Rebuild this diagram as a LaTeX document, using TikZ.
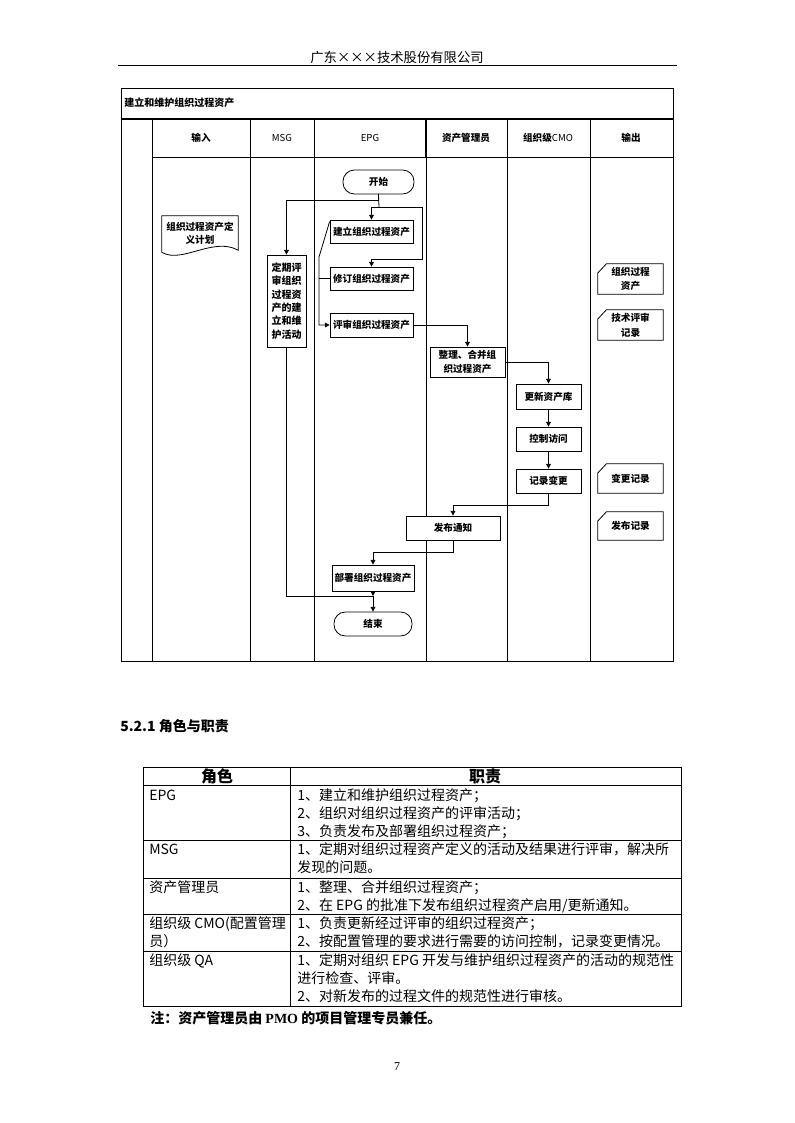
\documentclass[tikz,border=0pt]{standalone}
\usepackage{fontspec}
\setmainfont{Noto Sans CJK SC}
\newfontfamily\tnr{Liberation Serif}
\usetikzlibrary{arrows.meta,calc}
\begin{document}
\begin{tikzpicture}[x=0.75pt,y=-0.75pt,
 every node/.style={inner sep=0pt},
 sz/.style 2 args={minimum width=#1*0.75pt, minimum height=#2*0.75pt},
 fc/.style={font=\bfseries\fontsize{7.2}{9.5}\selectfont, align=center},
 box/.style={draw, fill=white, line width=0.6pt, fc},
 term/.style={draw, fill=white, line width=0.6pt, rounded corners=8.5pt, fc},
 ln/.style={line width=0.6pt},
 arr/.style={ln, -{Triangle[length=3.5pt,width=3.5pt]}},
 hdr/.style={font=\fontsize{7.2}{9}\selectfont},
 hdrb/.style={font=\bfseries\fontsize{7.2}{9}\selectfont},
 tb/.style={font=\fontsize{10.5}{13.5}\selectfont, align=left, anchor=north west},
]
\useasboundingbox (0,0) rectangle (794,1123);
\fill[white] (0,0) rectangle (794,1123);

% page header
\node[font=\fontsize{10}{12}\selectfont] (company) at (397,57) {广东×××技术股份有限公司};
\draw[line width=0.75pt] (118,66) -- (677,66);

% frame
\draw[ln] (121,88) rectangle (673,661);
\draw[line width=1.1pt] (121,119) -- (673,119);
\draw[ln] (152,157) -- (673,157);
\foreach \x in {152,250,314,507,590} \draw[ln] (\x,119) -- (\x,661);
\draw[line width=1.1pt] (426,119) -- (426,157);
\draw[ln] (426,157) -- (426,661);

\node[anchor=west, font=\bfseries\fontsize{7.5}{9}\selectfont] (title) at (124,103) {建立和维护组织过程资产};
\node[hdrb] (h1) at (201,138) {输入};
\node[hdr] (h2) at (282,138) {MSG};
\node[hdr] (h3) at (370,138) {EPG};
\node[hdrb] (h4) at (466,138) {资产管理员};
\node[hdr] (h5) at (548,138) {\textbf{组织级}CMO};
\node[hdrb] (h6) at (631,138) {输出};

% flow nodes
\node[term, sz={71}{24}] (st) at (378.5,182) {开始};
\node[fc, sz={76}{34}] (inp) at (200,233) {组织过程资产定\\义计划};
\draw[ln] ([yshift=-1.5pt]inp.south west) -- (inp.north west) -- (inp.north east) -- (inp.south east)
  .. controls +(-25,-14) and +(20,12) .. ([yshift=-1.5pt]inp.south west);
\node[box, font=\bfseries\fontsize{7.5}{10}\selectfont, sz={39}{92}] (msg) at (286.5,301) {定期评\\审组织\\过程资\\产的建\\立和维\\护活动};
\node[box, sz={83}{23}] (b1) at (371.5,231.5) {建立组织过程资产};
\node[box, sz={83}{23}] (b2) at (371.5,278.5) {修订组织过程资产};
\node[box, sz={83}{24}] (b3) at (371.5,325) {评审组织过程资产};
\node[box, font=\bfseries\fontsize{7.2}{11}\selectfont, sz={75}{30}] (zl) at (467.5,362) {整理、合并组\\织过程资产};
\node[box, sz={65}{25}] (gx) at (548.5,396.5) {更新资产库};
\node[box, sz={65}{24}] (kz) at (548.5,439) {控制访问};
\node[box, sz={65}{24}] (jl) at (548.5,481) {记录变更};
\node[box, sz={94}{24}] (fb) at (453,528) {发布通知};
\node[box, sz={82}{26}] (bs) at (373,578) {部署组织过程资产};
\node[term, sz={78}{24}] (end) at (373,624) {结束};

% outputs
\node[fc, font=\bfseries\fontsize{7.2}{11}\selectfont, sz={65}{30}] (o1) at (630.5,279) {组织过程\\资产};
\node[fc, font=\bfseries\fontsize{7.2}{11}\selectfont, sz={65}{30}] (o2) at (630.5,325) {技术评审\\记录};
\node[fc, sz={65}{29}] (o3) at (630.5,478.5) {变更记录};
\node[fc, sz={65}{28}] (o4) at (630.5,526) {发布记录};
\foreach \o in {o1,o2,o3,o4}
  \draw[ln] ([xshift=6.5pt]\o.north west) -- (\o.north east) -- (\o.south east) -- (\o.south west) -- ([yshift=-7pt]\o.north west) -- cycle;

% connectors
\coordinate (jA) at (379,207);
\coordinate (jB) at (422,207);
\coordinate (jC) at (422,259);
\coordinate (jD) at (319,257);
\coordinate (jE) at (373,596);
\draw[arr] (st.south) -- ++(0,6) -| (msg.north);
\draw[ln] (st.south) -- (jA);
\draw[arr] (jA) -| (b1.north);
\draw[arr] (jA) -- (jB) -- (jC) -| (b2.north);
\draw[arr] ([yshift=-1.5pt]b1.north west) -- (jD) |- (b3.west);
\draw[ln] (jD |- b2.west) -- (b2.west);
\draw[arr] (b3.east) -| (zl.north);
\draw[arr] (zl.east) -| (gx.north);
\draw[arr] (gx) -- (kz);
\draw[arr] (kz) -- (jl);
\draw[arr] (jl.south) -- ++(0,12) -| (fb.north);
\draw[arr] (fb.south) -- ++(0,12) -| (bs.north);
\draw[ln] (msg.south) |- (jE);
\draw[arr] (bs.south) -- (jE);
\draw[arr] (jE) -- (end.north);

% section heading
\node[anchor=west, font=\bfseries\fontsize{10.5}{12}\selectfont] (sec) at (120,726) {5.2.1\ 角色与职责};

% table
\draw[line width=0.75pt] (143,767) rectangle (681,1006);
\draw[line width=0.75pt] (290,767) -- (290,1006);
\foreach \y in {785,840,878,914,951} \draw[line width=0.75pt] (143,\y) -- (681,\y);
\node[font=\bfseries\fontsize{12}{14}\selectfont] (th1) at (217,776) {角色};
\node[font=\bfseries\fontsize{12}{14}\selectfont] (th2) at (485,776) {职责};

\node[tb] (l1) at (149,788) {\vphantom{角}EPG};
\node[tb] (r1) at (297,788) {1、建立和维护组织过程资产；\\2、组织对组织过程资产的评审活动；\\3、负责发布及部署组织过程资产；};
\node[tb] (l2) at (149,842) {\vphantom{角}MSG};
\node[tb] (r2) at (297,842) {1、定期对组织过程资产定义的活动及结果进行评审，解决所\\发现的问题。};
\node[tb] (l3) at (149,880) {资产管理员};
\node[tb] (r3) at (297,880) {1、整理、合并组织过程资产；\\2、在 EPG 的批准下发布组织过程资产启用/更新通知。};
\node[tb] (l4) at (149,916) {组织级 CMO(配置管理\\员）};
\node[tb] (r4) at (297,916) {1、负责更新经过评审的组织过程资产；\\2、按配置管理的要求进行需要的访问控制，记录变更情况。};
\node[tb] (l5) at (149,953) {组织级 QA};
\node[tb] (r5) at (297,953) {1、定期对组织 EPG 开发与维护组织过程资产的活动的规范性\\进行检查、评审。\\2、对新发布的过程文件的规范性进行审核。};

\node[anchor=west, font=\bfseries\fontsize{10.5}{12}\selectfont] (note) at (150,1018) {注：资产管理员由 {\tnr\bfseries PMO} 的项目管理专员兼任。};
\node[font=\tnr\fontsize{9}{10}\selectfont] (pg) at (397,1067) {7};
\end{tikzpicture}
\end{document}
